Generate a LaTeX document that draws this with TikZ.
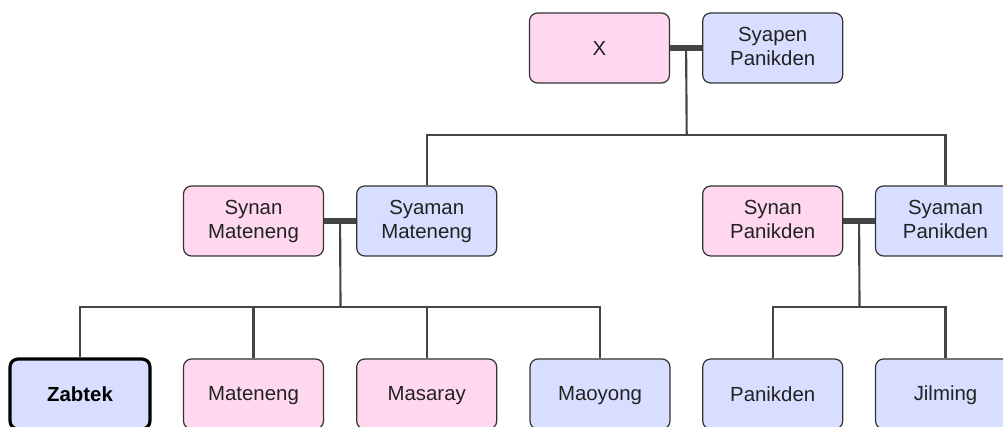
\documentclass[tikz,border=0pt]{standalone}
\usepackage{fontspec}
\setmainfont{Liberation Sans}
\usetikzlibrary{calc}
\definecolor{pinkfill}{HTML}{FFD7EE}
\definecolor{bluefill}{HTML}{D7DEFF}
\definecolor{edge}{HTML}{333333}
\definecolor{linkc}{HTML}{444444}
\definecolor{textc}{HTML}{222222}
\newcommand\boxstrut{\rule[-2.5pt]{0pt}{16pt}}
\begin{document}
\begin{tikzpicture}[x=0.75pt,y=-0.75pt,
  person/.style={draw=edge, line width=0.9pt, rounded corners=6pt,
    minimum width=105pt, minimum height=52.5pt, align=center,
    font=\fontsize{15.3}{18}\selectfont, text=textc, inner sep=0pt,
    execute at begin node=\boxstrut, execute at end node=\boxstrut},
  female/.style={person, fill=pinkfill},
  male/.style={person, fill=bluefill},
  focus/.style={draw=black, line width=2.4pt, font=\fontsize{15.3}{18}\selectfont\bfseries, text=black},
  link/.style={draw=linkc, line width=1.6pt},
  marriage/.style={draw=linkc, line width=4pt}]
\useasboundingbox (0,0) rectangle (1003,427);
\clip (0,0) rectangle (1003,427);
% row 1
\node[female] (X) at (599.5,48) {X};
\node[male] (SP) at (772.7,48) {Syapen\\Panikden};
% row 2
\node[female] (SnM) at (253.5,221) {Synan\\Mateneng};
\node[male] (SaM) at (426.7,221) {Syaman\\Mateneng};
\node[female] (SnP) at (772.7,221) {Synan\\Panikden};
\node[male] (SaP) at (945.5,221) {Syaman\\Panikden};
% row 3
\node[male, focus] (Z) at (80,394) {Zabtek};
\node[female] (Mt) at (253.5,394) {Mateneng};
\node[female] (Ms) at (426.7,394) {Masaray};
\node[male] (Mo) at (600,394) {Maoyong};
\node[male] (Pk) at (772.7,394) {Panikden};
\node[male] (Jl) at (945.5,394) {Jilming};
% family 1
\draw[marriage] (X.east) -- (SP.west);
\coordinate (m1) at ($(X.east)!0.5!(SP.west)$);
\coordinate (b1) at (686.7,135);
\draw[link] (m1) -- (b1);
\draw[link] (SaM.north) |- (b1) -| (SaP.north);
% family 2
\draw[marriage] (SnM.east) -- (SaM.west);
\coordinate (m2) at ($(SnM.east)!0.5!(SaM.west)$);
\coordinate (b2) at (340.5,307);
\draw[link] (m2) -- (b2);
\draw[link] (Z.north) |- (b2) -| (Mo.north);
\draw[link] (Mt.north) -- (Mt.north |- b2);
\draw[link] (Ms.north) -- (Ms.north |- b2);
% family 3
\draw[marriage] (SnP.east) -- (SaP.west);
\coordinate (m3) at ($(SnP.east)!0.5!(SaP.west)$);
\coordinate (b3) at (859.5,307);
\draw[link] (m3) -- (b3);
\draw[link] (Pk.north) |- (b3) -| (Jl.north);
\end{tikzpicture}
\end{document}
